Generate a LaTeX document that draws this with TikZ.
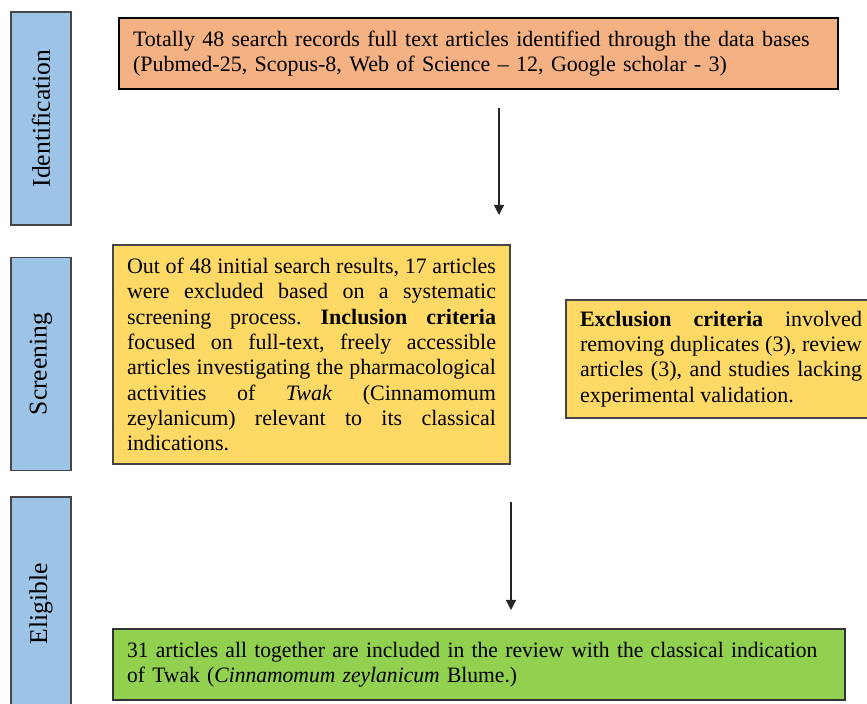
\documentclass[tikz,border=0pt]{standalone}
\usepackage{fontspec}
\setmainfont{Liberation Serif}
\newfontfamily\narrowserif[FakeStretch=0.98]{Liberation Serif}
\usetikzlibrary{positioning}
\usetikzlibrary{arrows.meta}
\definecolor{stageblue}{HTML}{9DC3E6}
\definecolor{idorange}{HTML}{F4B183}
\definecolor{screenyellow}{HTML}{FFD966}
\definecolor{incgreen}{HTML}{92D050}
\frenchspacing
\tikzset{
    stage/.style = {rectangle, line width=0.75pt, draw=gray!55!black, fill=stageblue, rotate=90, inner sep=0pt,
                    minimum width=106.5pt, minimum height=30pt, font=\fontsize{12.8}{15}\selectfont},
    box/.style = {rectangle, line width=0.75pt, inner xsep=7pt, inner ysep=0pt, font=\fontsize{11}{12.65}\selectfont},
    boxo/.style = {box, draw=black, fill=idorange, align=left, text width=345.5pt, minimum height=35.5pt},
    boxy/.style = {box, draw=gray!55!black, fill=screenyellow, align=justify, text width=184.5pt, minimum height=109.5pt},
    boxx/.style = {box, draw=gray!55!black, fill=screenyellow, align=justify, text width=141pt, minimum height=59pt},
    boxg/.style = {box, draw=gray!40!black, fill=incgreen, align=left, text width=352pt, minimum height=35.5pt,
                   font=\narrowserif\fontsize{11}{12.65}\selectfont},
    edgen/.style = {-{Triangle[length=5pt,width=5pt]}, line width=0.6pt, draw=black!85},
}

\begin{document}
\begin{tikzpicture}[x=0.5pt,y=-0.5pt]
\useasboundingbox (0,0) rectangle (867,704);
\clip (0,0) rectangle (867,704);
%
\node[stage] at (41, 118.5) (ident) {Identification};
\node[stage] at (41, 364) (screen) {Screening};
\node[stage] at (41, 603.5) (elig) {Eligible};
%
\node[boxo] at (478.5, 53.5) (records) {Totally 48 search records full text articles identified through the data bases\\
(Pubmed-25, Scopus-8, Web of Science -- 12, Google scholar - 3)};
\node[boxy] at (311.5, 354.5) (incl) {Out of 48 initial search results, 17 articles\linebreak
were excluded based on a systematic\linebreak
screening process. \textbf{Inclusion criteria}\linebreak
focused on full-text, freely accessible\linebreak
articles investigating the pharmacological\linebreak
activities of \textit{Twak} (Cinnamomum\linebreak
zeylanicum) relevant to its classical\linebreak
indications.};
\node[boxx] at (721, 359) (excl) {\textbf{Exclusion criteria} involved\linebreak
removing duplicates (3), review\linebreak
articles (3), and studies lacking\linebreak
experimental validation.};
\node[boxg] at (479, 664.5) (final) {31 articles all together are included in the review with the classical indication\\
of Twak (\textit{Cinnamomum zeylanicum} Blume.)};
%
\coordinate (a1s) at (499, 108);
\coordinate (a1e) at (499, 215);
\coordinate (a2s) at (511, 502);
\coordinate (a2e) at (511, 610);
\draw[edgen] (a1s) -- (a1e);
\draw[edgen] (a2s) -- (a2e);

\end{tikzpicture}
\end{document}
